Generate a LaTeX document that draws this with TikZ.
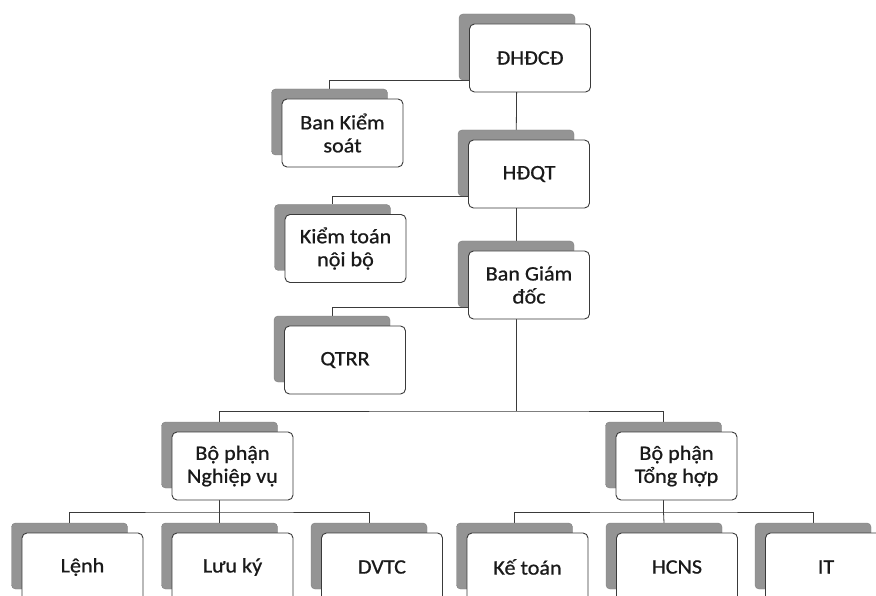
\documentclass[tikz,border=0pt]{standalone}
\usepackage{fontspec}
\setmainfont{Carlito}[FakeStretch=1.08, FakeBold=0.8]
\usetikzlibrary{positioning,backgrounds}
\definecolor{xshade}{HTML}{949494}
\definecolor{xedge}{HTML}{3A3A3A}
\definecolor{xtext}{HTML}{1A1A1A}

\begin{document}
\begin{tikzpicture}[
    x=1pt, y=-1pt,
    unit/.style={rectangle, draw=xedge, line width=0.9pt, rounded corners=5pt, fill=white, minimum width=121pt, minimum height=68pt, inner sep=0pt, align=center, text=xtext, font=\fontsize{20.5}{23}\selectfont},
    backunit/.style={rectangle, draw=xshade!85!black, fill=xshade, rounded corners=4pt, minimum width=116pt, minimum height=66pt, inner sep=0pt, xshift=-13pt, yshift=11pt},
    link/.style={draw=xedge, line width=0.8pt},
]
\useasboundingbox (0,0) rectangle (876,596);
\clip (0,0) rectangle (876,596);

% Top line
\node[backunit] (dhdcd-s) at (530,58) {};
\node[unit] (dhdcd) at (530,58) {ĐHĐCĐ};
\node[backunit] (bks-s) at (342.5,133) {};
\node[unit] (bks) at (342.5,133) {Ban Kiểm\\soát};
\node[backunit] (hdqt-s) at (529,174) {};
\node[unit] (hdqt) at (529,174) {HĐQT};
\node[backunit] (ktnb-s) at (345.5,248.5) {};
\node[unit] (ktnb) at (345.5,248.5) {Kiểm toán\\nội bộ};
\node[backunit] (bgd-s) at (529,285) {};
\node[unit] (bgd) at (529,285) {Ban Giám\\đốc};
\node[backunit] (qtrr-s) at (345,360) {};
\node[unit] (qtrr) at (345,360) {QTRR};

% Departments
\node[backunit] (bpnv-s) at (232.5,466) {};
\node[unit] (bpnv) at (232.5,466) {Bộ phận\\Nghiệp vụ};
\node[backunit] (bpth-s) at (676.5,466) {};
\node[unit] (bpth) at (676.5,466) {Bộ phận\\Tổng hợp};

% Teams
\node[backunit] (lenh-s) at (82.5,567) {};
\node[unit] (lenh) at (82.5,567) {Lệnh};
\node[backunit] (luuky-s) at (232.5,567) {};
\node[unit] (luuky) at (232.5,567) {Lưu ký};
\node[backunit] (dvtc-s) at (382,567) {};
\node[unit] (dvtc) at (382,567) {DVTC};
\node[backunit] (ketoan-s) at (527.5,567) {};
\node[unit] (ketoan) at (527.5,567) {Kế toán};
\node[backunit] (hcns-s) at (677,567) {};
\node[unit] (hcns) at (677,567) {HCNS};
\node[backunit] (it-s) at (826,567) {};
\node[unit] (it) at (826,567) {IT};

\coordinate (dept-bar) at (516,411);
\coordinate (nv-bar) at (219.5,512);
\coordinate (th-bar) at (663.5,512);

% Connectors
\begin{scope}[on background layer]
\draw[link] (dhdcd-s) -- (hdqt-s);
\draw[link] (dhdcd-s.south) -| (bks-s.north);
\draw[link] (hdqt-s) -- (bgd-s);
\draw[link] (hdqt-s.south) -| (ktnb-s.north);
\draw[link] (bgd-s.south) -| (qtrr-s.north);
\draw[link] (bgd-s) -- (dept-bar);
\draw[link] (bpnv-s.north) |- (dept-bar) -| (bpth-s.north);
\draw[link] (bpnv-s) -- (nv-bar);
\draw[link] (lenh-s.north) |- (nv-bar) -| (dvtc-s.north);
\draw[link] (nv-bar) -- (luuky-s.north);
\draw[link] (bpth-s) -- (th-bar);
\draw[link] (ketoan-s.north) |- (th-bar) -| (it-s.north);
\draw[link] (th-bar) -- (hcns-s.north);
\end{scope}

\end{tikzpicture}
\end{document}
